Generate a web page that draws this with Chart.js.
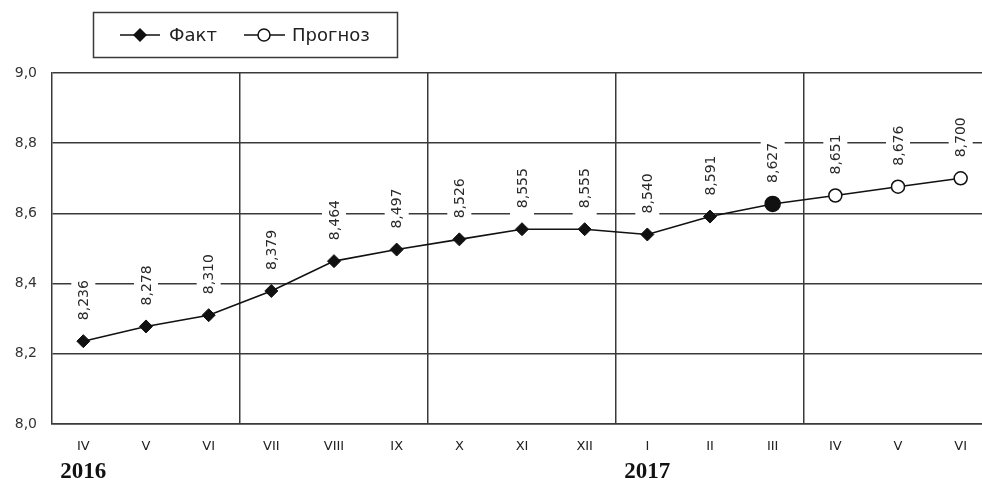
<!DOCTYPE html>
<html><head><meta charset="utf-8">
<script src="https://cdn.jsdelivr.net/npm/chart.js@4"></script>
<style>
html,body{margin:0;padding:0;background:#fff;overflow:hidden;}
#wrap{width:1000px;height:484px;position:relative;}
canvas{display:block;}
</style></head>
<body>
<div id="wrap"><canvas id="c" width="1000" height="484" style="width:1000px;height:484px"></canvas></div>
<script>
const categories = ['IV','V','VI','VII','VIII','IX','X','XI','XII','I','II','III','IV','V','VI'];
const factValues = [8.236,8.278,8.310,8.379,8.464,8.497,8.526,8.555,8.555,8.540,8.591,8.627,null,null,null];
const forecastValues = [null,null,null,null,null,null,null,null,null,null,null,8.627,8.651,8.676,8.700];
const yearLabels = [{index:0,text:'2016'},{index:9,text:'2017'}];
const quarterBoundaries = [3,6,9,12];
const seriesNames = ['Факт','Прогноз'];

const fmt = v => v.toFixed(3).replace('.', ',');
const INK = '#2a2a2a';
const GRID = '#3a3a3a';

const labelPlugin = {
  id:'valueLabels',
  beforeDatasetsDraw(chart){
    const ctx = chart.ctx;
    ctx.save();
    ctx.font = '14px "DejaVu Sans"';
    const drawn = {};
    chart.data.datasets.forEach((ds,di)=>{
      const meta = chart.getDatasetMeta(di);
      meta.data.forEach((pt,i)=>{
        const v = ds.data[i];
        if (v==null || drawn[i]) return;
        drawn[i]=true;
        const t = fmt(v);
        const w = ctx.measureText(t).width;
        const x = pt.x, y = pt.y;
        const bottom = y - 13, start = y - 21;
        ctx.fillStyle = '#fff';
        ctx.fillRect(x-12, start - w - 3, 24, bottom - (start - w - 3));
        ctx.save();
        ctx.translate(x, start);
        ctx.rotate(-Math.PI/2);
        ctx.fillStyle = INK;
        ctx.textAlign='left';
        ctx.textBaseline='middle';
        ctx.fillText(t, 0, 1);
        ctx.restore();
      });
    });
    ctx.restore();
  },
  afterDraw(chart){
    const ctx = chart.ctx;
    const xs = chart.scales.x;
    ctx.save();
    ctx.font = 'bold 23px "Liberation Serif"';
    ctx.fillStyle = '#111';
    ctx.textAlign='center';
    ctx.textBaseline='middle';
    yearLabels.forEach(y=>{
      ctx.fillText(y.text, xs.getPixelForValue(y.index), 472);
    });
    ctx.strokeStyle = GRID; ctx.lineWidth = 1.5;
    ctx.strokeRect(93.5,12.5,304,45);
    const ly = 35;
    ctx.lineWidth = 1.5; ctx.strokeStyle='#111';
    ctx.beginPath(); ctx.moveTo(120,ly); ctx.lineTo(160,ly); ctx.stroke();
    ctx.fillStyle='#111';
    ctx.beginPath(); ctx.moveTo(140,ly-7); ctx.lineTo(147,ly); ctx.lineTo(140,ly+7); ctx.lineTo(133,ly); ctx.closePath(); ctx.fill();
    ctx.beginPath(); ctx.moveTo(244,ly); ctx.lineTo(285,ly); ctx.stroke();
    ctx.fillStyle='#fff';
    ctx.beginPath(); ctx.arc(264,ly,6,0,Math.PI*2); ctx.fill(); ctx.stroke();
    ctx.font = '18px "DejaVu Sans"';
    ctx.fillStyle = '#222';
    ctx.textAlign='left';
    ctx.fillText(seriesNames[0],169,ly+1);
    ctx.fillText(seriesNames[1],292,ly+1);
    ctx.restore();
  }
};

new Chart(document.getElementById('c'),{
  type:'line',
  data:{
    labels:categories,
    datasets:[
      {label:seriesNames[0],data:factValues,borderColor:'#111',borderWidth:1.6,
       pointStyle:'rectRot',pointRadius:6.5,pointBackgroundColor:'#111',pointBorderColor:'#111',pointBorderWidth:1,tension:0},
      {label:seriesNames[1],data:forecastValues,borderColor:'#111',borderWidth:1.6,
       pointStyle:'circle',pointRadius:ctx=>ctx.dataIndex===11?7.5:6.5,
       pointBackgroundColor:ctx=>ctx.dataIndex===11?'#111':'#fff',pointBorderColor:'#111',pointBorderWidth:1.5,tension:0}
    ]
  },
  options:{
    responsive:false,animation:false,
    devicePixelRatio:1,
    layout:{padding:{top:73,right:0,left:0,bottom:0}},
    plugins:{legend:{display:false},tooltip:{enabled:false}},
    scales:{
      x:{
        offset:true,
        afterFit(s){s.height=60;},
        grid:{offset:true,drawTicks:false,lineWidth:1.5,
          color:c=>quarterBoundaries.includes(c.index)?GRID:'rgba(0,0,0,0)'},
        border:{display:true,color:GRID,width:1.5},
        ticks:{padding:15,color:'#222',font:{family:'DejaVu Sans',size:13},maxRotation:0,autoSkip:false}
      },
      y:{
        min:8,max:9,
        afterFit(s){s.width=52;},
        grid:{drawTicks:false,color:GRID,lineWidth:1.5},
        border:{display:true,color:GRID,width:1.5},
        ticks:{stepSize:0.2,padding:15,color:'#333',font:{family:'DejaVu Sans',size:14},
          callback:v=>v.toFixed(1).replace('.',',')}
      }
    }
  },
  plugins:[labelPlugin]
});
</script>
</body></html>
